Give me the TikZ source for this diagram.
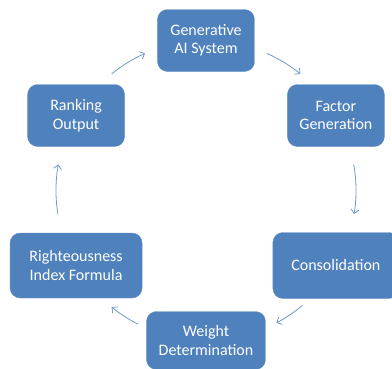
\documentclass[tikz,border=0pt]{standalone}
\usepackage{fontspec}
\setmainfont{Carlito}
\usetikzlibrary{arrows.meta}
\definecolor{boxblue}{RGB}{79,129,189}
\definecolor{arcblue}{RGB}{112,152,206}
\begin{document}
\begin{tikzpicture}[x=1pt,y=1pt,
    stage/.style={draw=boxblue!85!white, fill=boxblue, rounded corners=10pt,
      text=white, align=center, font=\fontsize{16}{18.5}\selectfont,
      inner sep=2pt, minimum width=97pt, minimum height=62pt},
    flow/.style={draw=arcblue, line width=0.8pt,
      -{Straight Barb[length=4pt,width=8pt]}}]
    \useasboundingbox (-206,-177.5) rectangle (186,190.5);
    \coordinate (ring) at (0,0);
    % stages round the ring
    \node[stage] (gen) at (90:150pt) {Generative\\AI System};
    \node[stage] (fac) at (30:150pt) {Factor\\Generation};
    \node[stage, minimum width=126pt, minimum height=66pt] (con) at (-30:150pt) {Consolidation};
    \node[stage, minimum width=119pt, minimum height=58pt] (wei) at (-90:150pt) {Weight\\Determination};
    \node[stage, minimum width=132pt, minimum height=65pt] (rig) at (210:150pt) {Righteousness\\Index Formula};
    \node[stage] (ran) at (150:150pt) {Ranking\\Output};
    % arcs between them
    \draw[flow] ([shift={(129:150pt)}]ring) arc[start angle=129, end angle=114, radius=150pt];
    \draw[flow] ([shift={(66:150pt)}]ring) arc[start angle=66, end angle=51, radius=150pt];
    \draw[flow] ([shift={(10:150pt)}]ring) arc[start angle=10, end angle=-9, radius=150pt];
    \draw[flow] ([shift={(-50:150pt)}]ring) arc[start angle=-50, end angle=-62, radius=150pt];
    \draw[flow] ([shift={(-117:150pt)}]ring) arc[start angle=-117, end angle=-129, radius=150pt];
    \draw[flow] ([shift={(189:150pt)}]ring) arc[start angle=189, end angle=170, radius=150pt];
\end{tikzpicture}
\end{document}
